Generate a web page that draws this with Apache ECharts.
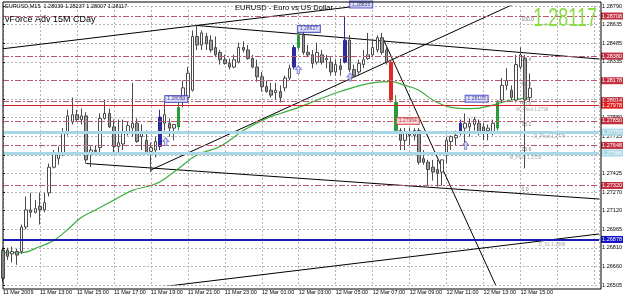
<!DOCTYPE html>
<html>
<head>
<meta charset="utf-8">
<script src="https://cdn.jsdelivr.net/npm/echarts@6/dist/echarts.min.js"></script>
<style>
html, body { margin: 0; padding: 0; background: #fff; }
#chart { width: 625px; height: 299px; }
</style>
</head>
<body>
<div id="chart"></div>
<script>
// EURUSD M15, 11 Mar 2009 11:00 .. 12 Mar 2009 15:30 (bar index = 15 min step)
const timeLabels = ['11 Mar 2009', '11 Mar 13:00', '11 Mar 15:00', '11 Mar 17:00', '11 Mar 19:00',
  '11 Mar 21:00', '11 Mar 23:00', '12 Mar 01:00', '12 Mar 03:00', '12 Mar 05:00', '12 Mar 07:00',
  '12 Mar 09:00', '12 Mar 11:00', '12 Mar 13:00', '12 Mar 15:00'];
const priceTicks = ['1.26505', '1.26660', '1.26810', '1.26965', '1.27120', '1.27270', '1.27425', '1.27575',
  '1.27725', '1.27880', '1.28030', '1.28180', '1.28335', '1.28485', '1.28635', '1.28790'];

const opens = [
  1.2656, 1.2679, 1.2676, 1.2678, 1.2678, 1.2698, 1.2712, 1.2710, 1.2715, 1.2712,
  1.2726, 1.2747, 1.2754, 1.2759, 1.2775, 1.2784, 1.2790, 1.2786, 1.2789, 1.2759,
  1.2761, 1.2763, 1.2787, 1.2791, 1.2780, 1.2764, 1.2766, 1.2775, 1.2779, 1.2783,
  1.2772, 1.2769, 1.2760, 1.2761, 1.2764, 1.2783, 1.2783, 1.2779, 1.2780, 1.2802,
  1.2804, 1.2810, 1.2854, 1.2847, 1.2854, 1.2851, 1.2845, 1.2841, 1.2835, 1.2832,
  1.2829, 1.2833, 1.2845, 1.2843, 1.2836, 1.2829, 1.2821, 1.2813, 1.2810, 1.2808,
  1.2809, 1.2812, 1.2820, 1.2829, 1.2845, 1.2855, 1.2841, 1.2839, 1.2833, 1.2839,
  1.2835, 1.2833, 1.2825, 1.2830, 1.2833, 1.2851, 1.2827, 1.2825, 1.2831, 1.2836,
  1.2839, 1.2843, 1.2853, 1.2843, 1.2833, 1.2800, 1.2777, 1.2769, 1.2776, 1.2773,
  1.2777, 1.2754, 1.2751, 1.2747, 1.2745, 1.2743, 1.2757, 1.2768, 1.2771, 1.2776,
  1.2779, 1.2780, 1.2782, 1.2783, 1.2780, 1.2777, 1.2775, 1.2779, 1.2802, 1.2814,
  1.2810, 1.2802, 1.2829, 1.2836, 1.28039];
const highs = [
  1.2681, 1.2681, 1.2682, 1.2680, 1.2700, 1.2723, 1.2726, 1.2720, 1.2726, 1.2726,
  1.2750, 1.2761, 1.2764, 1.2779, 1.2794, 1.2804, 1.2794, 1.2795, 1.2792, 1.2764,
  1.2765, 1.2791, 1.2802, 1.2795, 1.2786, 1.2786, 1.2786, 1.2784, 1.2816, 1.2787,
  1.2782, 1.2777, 1.2767, 1.2772, 1.2794, 1.2800, 1.2787, 1.2782, 1.2802, 1.2818,
  1.2829, 1.2859, 1.2863, 1.2859, 1.2857, 1.2855, 1.2854, 1.2843, 1.2839, 1.2836,
  1.2839, 1.2849, 1.2850, 1.2847, 1.2839, 1.2835, 1.2825, 1.2818, 1.2816, 1.2816,
  1.2814, 1.2822, 1.2831, 1.2847, 1.2858, 1.2859, 1.2847, 1.2843, 1.2849, 1.2843,
  1.2839, 1.2837, 1.2835, 1.2836, 1.2870, 1.2855, 1.2831, 1.2835, 1.2843, 1.2857,
  1.2851, 1.2855, 1.2857, 1.2847, 1.2835, 1.2806, 1.2779, 1.2779, 1.2779, 1.2779,
  1.2779, 1.2761, 1.2753, 1.2753, 1.2753, 1.2753, 1.2772, 1.2773, 1.2777, 1.2786,
  1.2791, 1.2787, 1.2788, 1.2786, 1.2783, 1.2782, 1.2786, 1.2802, 1.2820, 1.2828,
  1.2814, 1.2839, 1.2845, 1.2839, 1.28237];
const lows = [
  1.2653, 1.2671, 1.2669, 1.2667, 1.2676, 1.2696, 1.2706, 1.2709, 1.2700, 1.2710,
  1.2723, 1.2746, 1.2749, 1.2756, 1.2773, 1.2782, 1.2784, 1.2782, 1.2750, 1.2747,
  1.2757, 1.2759, 1.2786, 1.2779, 1.2757, 1.2759, 1.2761, 1.2773, 1.2772, 1.2767,
  1.2761, 1.2757, 1.2743, 1.2755, 1.2761, 1.2777, 1.2772, 1.2769, 1.2777, 1.2796,
  1.2802, 1.2809, 1.2843, 1.2843, 1.2843, 1.2841, 1.2837, 1.2831, 1.2831, 1.2827,
  1.2828, 1.2832, 1.2841, 1.2835, 1.2828, 1.2817, 1.2809, 1.2808, 1.2804, 1.2802,
  1.2800, 1.2809, 1.2818, 1.2827, 1.2843, 1.2839, 1.2837, 1.2828, 1.2831, 1.2831,
  1.2828, 1.2822, 1.2822, 1.2822, 1.2832, 1.2825, 1.2821, 1.2822, 1.2828, 1.2835,
  1.2837, 1.2841, 1.2839, 1.2831, 1.2800, 1.2776, 1.2761, 1.2761, 1.2765, 1.2769,
  1.2749, 1.2749, 1.2732, 1.2736, 1.2731, 1.2732, 1.2750, 1.2761, 1.2765, 1.2773,
  1.2765, 1.2772, 1.2777, 1.2773, 1.2769, 1.2769, 1.2773, 1.2777, 1.2800, 1.2810,
  1.2802, 1.2800, 1.2827, 1.2746, 1.28007];
const closes = [
  1.2679, 1.2674, 1.2678, 1.2675, 1.2698, 1.2712, 1.2710, 1.2713, 1.2712, 1.2718,
  1.2747, 1.2759, 1.2759, 1.2775, 1.2789, 1.2790, 1.2786, 1.2789, 1.2753, 1.2761,
  1.2760, 1.2787, 1.2791, 1.2780, 1.2764, 1.2767, 1.2775, 1.2781, 1.2783, 1.2768,
  1.2775, 1.2759, 1.2763, 1.2768, 1.2788, 1.2790, 1.2779, 1.2782, 1.2796, 1.2812,
  1.2824, 1.2854, 1.2847, 1.2857, 1.2848, 1.2843, 1.2839, 1.2835, 1.2832, 1.2829,
  1.2835, 1.2845, 1.2843, 1.2836, 1.2829, 1.2821, 1.2813, 1.2809, 1.2806, 1.2810,
  1.2804, 1.2820, 1.2828, 1.2845, 1.2855, 1.2841, 1.2839, 1.2832, 1.2841, 1.2833,
  1.2836, 1.2825, 1.2831, 1.2827, 1.2851, 1.2827, 1.2822, 1.2832, 1.2835, 1.2839,
  1.2845, 1.2853, 1.2841, 1.2833, 1.2802, 1.2777, 1.2769, 1.2776, 1.2773, 1.2777,
  1.2751, 1.2751, 1.2745, 1.2743, 1.2742, 1.2753, 1.2769, 1.2772, 1.2773, 1.2783,
  1.2783, 1.2783, 1.2786, 1.2776, 1.2775, 1.2779, 1.2783, 1.2800, 1.2814, 1.2818,
  1.2804, 1.2831, 1.2839, 1.2802, 1.28117];

// bars painted by the vForce indicator
const vforceBars = [34, 38, 63, 64, 74, 84, 85, 99, 107];
const vforceColors = ['#2b2b9b', '#2a9a3c', '#2b2b9b', '#2a9a3c', '#2b2b9b', '#e02828', '#2a9a3c', '#2b2b9b', '#2a9a3c'];

// moving average, read at sample bars
const maBars = [0, 4, 8, 11, 14, 17, 20, 24, 28, 32, 34, 38, 42, 47, 52, 57, 60, 64, 68, 73, 80, 84, 87, 90, 93, 97, 101, 104, 108, 110, 114];
const maValues = [1.2677, 1.2677, 1.2682, 1.2687, 1.2696, 1.2706, 1.2712, 1.2720, 1.2728, 1.2732, 1.2735, 1.2746,
  1.2757, 1.2764, 1.2777, 1.2787, 1.2791, 1.2796, 1.2802, 1.2809, 1.2816, 1.2817, 1.2814, 1.2810, 1.2802, 1.2796,
  1.2795, 1.2796, 1.2800, 1.2802, 1.2804];

// trend lines: [bar, price] -> [bar, price]
const trendFrom = [[0, 1.2844], [42, 1.2863], [32, 1.27447], [18, 1.2750], [82.4, 1.2851], [31.7, 1.26478]];
const trendTo = [[84.1, 1.28823], [129, 1.28356], [111.5, 1.28823], [129, 1.27209], [106.6, 1.26505], [129, 1.26923]];

// fibonacci retracement
const fibLevels = ['100.0', '76.4', '61.8', '50.0', '38.2', '23.6', '0.0'];
const fibPrices = [1.28708, 1.28380, 1.28178, 1.28014, 1.27850, 1.27648, 1.27320];

// pivot lines
const pivotNames = ['W_Pivot 1.2798', 'D_Pivot 1.2776', 'M_Pivot 1.2759', 'D_S1 1.2688'];
const pivotPrices = [1.27978, 1.27757, 1.27586, 1.26878];
const pivotColors = ['#d42020', '#a9d7e6', '#a9d7e6', '#1a1ab4'];
const pivotWidths = [1.2, 3, 3, 2];
const pivotTextBars = [118, 121.7, 116.5, 121.7];
const bidPrice = 1.28117;

// price tags and arrows drawn on the chart
const tagTexts = ['1.28050', '1.28627', '1.28836', '1.28105', '1.27964'];
const tagBars = [37.5, 66.2, 77.5, 102.5, 87.6];
const tagPrices = [1.28028, 1.28602, 1.28802, 1.28030, 1.27848];
const arrowBars = [35.2, 63.9, 75.1, 100.1];
const arrowPrices = [1.2768, 1.2827, 1.2821, 1.2765];

const yMin = 1.26505, yMax = 1.28790, yStep = (yMax - yMin) / 15;
const FONT = 'Liberation Sans, Arial, sans-serif';

let candleData = [];
for (let i = 0; i < opens.length; i++) {
  let item = { value: [i, opens[i], closes[i], lows[i], highs[i]] };
  let k = vforceBars.indexOf(i);
  if (k >= 0) {
    let c = vforceColors[k];
    item.itemStyle = { color: c, color0: c, borderColor: c, borderColor0: c };
  }
  candleData.push(item);
}

let levelLines = [];
fibPrices.forEach(function (p) {
  levelLines.push({
    yAxis: p,
    lineStyle: { color: '#b85a6a', width: 1, type: [6, 2, 2, 2] },
    label: { backgroundColor: '#c3303f' }
  });
});
pivotPrices.forEach(function (p, i) {
  levelLines.push({
    yAxis: p,
    lineStyle: { color: pivotColors[i], width: pivotWidths[i], type: 'solid' },
    label: { backgroundColor: i == 0 ? '#e01c1c' : (i == 3 ? '#1010c8' : '#a9d7e6') }
  });
});
levelLines.push({ yAxis: bidPrice, lineStyle: { opacity: 0 }, label: { backgroundColor: '#000' } });

let tagData = tagPrices.map(function (p, i) { return { value: [tagBars[i], p], name: tagTexts[i] }; });
// the last tag is the red one
tagData[4].label = { color: '#b02020', backgroundColor: '#f6d6d6', borderColor: '#d04040' };

let series = [];
// trend lines
trendFrom.forEach(function (a, i) {
  series.push({
    type: 'line', data: [a, trendTo[i]], symbol: 'none', silent: true, z: 3,
    lineStyle: { color: '#000', width: 1 }
  });
});
series.push({
  type: 'line', data: [], silent: true, z: 2,
  markLine: {
    silent: true, symbol: 'none', animation: false, precision: 5,
    label: {
      show: true, position: 'end', distance: 2, color: '#fff', fontSize: 5.5, fontFamily: FONT,
      padding: [1, 1, 0, 1],
      formatter: function (p) { return Number(p.value).toFixed(5); }
    },
    data: levelLines
  }
});
series.push({
  type: 'line', data: maBars.map(function (b, i) { return [b, maValues[i]]; }),
  symbol: 'none', smooth: 0.4, silent: true, z: 3,
  lineStyle: { color: '#3aae3e', width: 1.2 }
});
series.push({
  type: 'candlestick', data: candleData, barWidth: 3, silent: true, z: 4,
  itemStyle: { color: '#ffffff', color0: '#9a9a9a', borderColor: '#4a4a4a', borderColor0: '#4a4a4a', borderWidth: 1 }
});
series.push({
  type: 'scatter', symbolSize: 0, silent: true, clip: false, z: 5,
  data: fibPrices.map(function (p, i) { return { value: [112.2, p], name: fibLevels[i] }; }),
  label: { show: true, position: 'right', distance: 0, offset: [0, 4], formatter: '{b}', color: '#606060', fontSize: 5, fontFamily: FONT }
});
series.push({
  type: 'scatter', symbolSize: 0, silent: true, clip: false, z: 5,
  data: pivotPrices.map(function (p, i) { return { value: [pivotTextBars[i], p], name: pivotNames[i] }; }),
  label: { show: true, position: 'left', distance: 0, offset: [0, 5], formatter: '{b}', color: '#909090', fontSize: 4.6, fontFamily: FONT }
});
series.push({
  type: 'scatter', symbolSize: 0, silent: true, clip: false, z: 6,
  data: tagData,
  label: {
    show: true, position: 'inside', formatter: '{b}', fontSize: 5, fontFamily: FONT,
    color: '#1c1c7c', backgroundColor: '#dcdcfa', borderColor: '#3a3ac0', borderWidth: 1, padding: [1, 2, 0, 2]
  },
  itemStyle: { color: 'transparent' }
});
series.push({
  type: 'scatter', silent: true, clip: false, z: 6,
  symbol: 'path://M5,0 L10,5 L7,5 L7,10 L3,10 L3,5 L0,5 Z', symbolSize: [6, 8],
  data: arrowBars.map(function (b, i) { return [b, arrowPrices[i]]; }),
  itemStyle: { color: '#d6d6f6', borderColor: '#6a6ac8', borderWidth: 1 }
});

const chart = echarts.init(document.getElementById('chart'), null, { renderer: 'canvas' });
chart.setOption({
  animation: false,
  backgroundColor: '#fff',
  grid: { left: 3, right: 24, top: 6, bottom: 14 },
  xAxis: {
    type: 'value', min: 0, max: 129, interval: 8,
    axisLine: { show: false }, axisTick: { show: false },
    axisLabel: {
      align: 'left', margin: 4, fontSize: 5.5, fontFamily: FONT, color: '#000', showMaxLabel: false,
      formatter: function (v) {
        let k = Math.round(v / 8);
        return Math.abs(v - k * 8) < 0.01 && timeLabels[k] ? timeLabels[k] : '';
      }
    },
    splitLine: { show: true, lineStyle: { color: '#b4b4b4', type: [2, 2], width: 1 } }
  },
  yAxis: {
    type: 'value', position: 'right', min: yMin, max: yMax, interval: yStep, scale: true,
    axisLine: { show: false },
    axisTick: { show: true, length: 2, lineStyle: { color: '#000' } },
    axisLabel: {
      margin: 3, fontSize: 5.5, fontFamily: FONT, color: '#000',
      formatter: function (v) {
        let k = Math.round((v - yMin) / yStep);
        return Math.abs(v - (yMin + k * yStep)) < yStep * 0.1 && priceTicks[k] ? priceTicks[k] : '';
      }
    },
    splitLine: { show: true, lineStyle: { color: '#b4b4b4', type: [2, 2], width: 1 } }
  },
  graphic: [
    { type: 'rect', z: 10, silent: true, shape: { x: 3, y: 2, width: 598, height: 287 },
      style: { fill: 'none', stroke: '#000', lineWidth: 1 } },
    { type: 'text', x: 5, y: 3, z: 10, silent: true,
      style: { text: 'EURUSD,M15  1.28039 1.28237 1.28007 1.28117', font: '5.5px ' + FONT, fill: '#000' } },
    { type: 'text', x: 5, y: 15, z: 10, silent: true,
      style: { text: 'vForce Adv 15M CDay', font: '9px ' + FONT, fill: '#000' } },
    { type: 'text', x: 235, y: 4, z: 10, silent: true,
      style: { text: 'EURUSD - Euro vs US Dollar', font: '7.5px ' + FONT, fill: '#000' } },
    { type: 'text', x: 597, y: 7, z: 10, silent: true, scaleX: 0.72,
      style: { text: '1.28117', font: '25px ' + FONT, fill: '#8cdc48', align: 'right', verticalAlign: 'top' } }
  ],
  series: series
});
</script>
</body>
</html>
